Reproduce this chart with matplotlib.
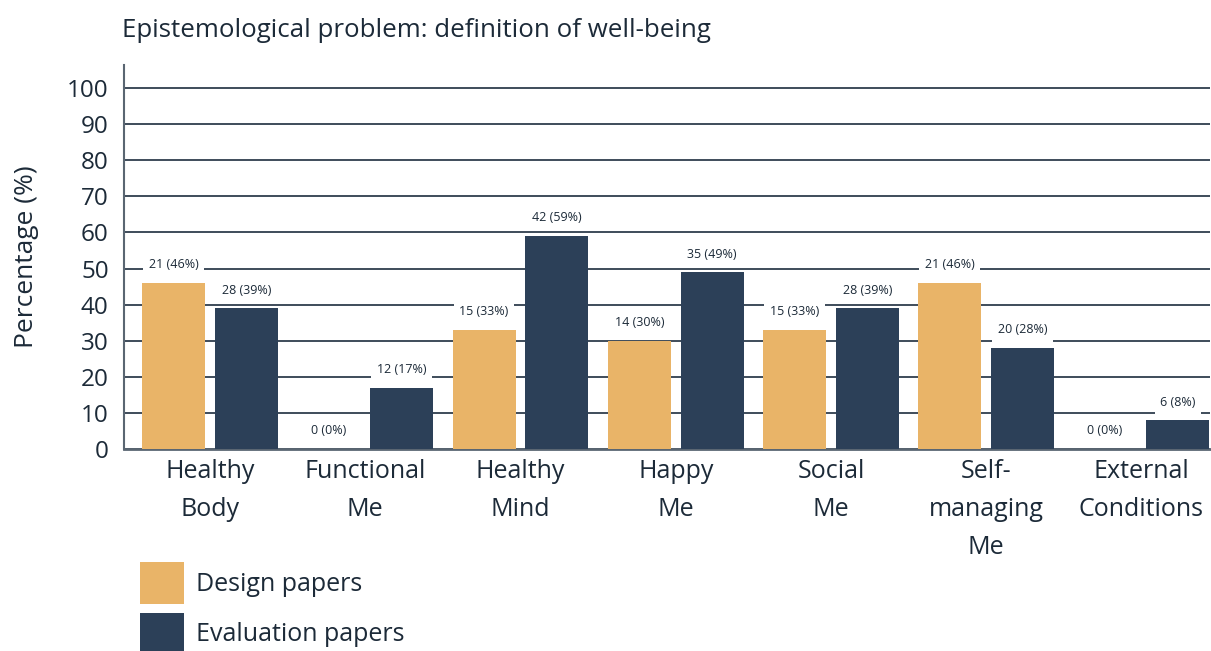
import numpy as np
import matplotlib
matplotlib.use('Agg')
import matplotlib.pyplot as plt

categories = ['Healthy\nBody', 'Functional\nMe', 'Healthy\nMind', 'Happy\nMe',
              'Social\nMe', 'Self-\nmanaging\nMe', 'External\nConditions']
design_counts = [21, 0, 15, 14, 15, 21, 0]
design_pct = [46, 0, 33, 30, 33, 46, 0]
eval_counts = [28, 12, 42, 35, 28, 20, 6]
eval_pct = [39, 17, 59, 49, 39, 28, 8]

design_color = '#E9B468'
eval_color = '#2C4058'
text_color = '#1C2A38'
grid_color = '#3E4C5A'

plt.rcParams['font.family'] = ['Open Sans', 'DejaVu Sans']

fig = plt.figure(figsize=(12.11, 6.51), dpi=100)
ax = fig.add_axes([0.1024, 0.3103, 0.8966, 0.5899])

x = np.arange(len(categories))
width = 0.405
offset = 0.032 + width / 2

ax.bar(x - offset, design_pct, width, color=design_color, label='Design papers', zorder=3)
ax.bar(x + offset, eval_pct, width, color=eval_color, label='Evaluation papers', zorder=3)

for xi, c, p in zip(x, design_counts, design_pct):
    ax.annotate(f'{c} ({p}%)', (xi - offset, p), xytext=(0, 13), textcoords='offset points',
                ha='center', va='center', fontsize=9, color=text_color, zorder=4,
                bbox=dict(boxstyle='square,pad=0.45', fc='white', ec='none'))
for xi, c, p in zip(x, eval_counts, eval_pct):
    ax.annotate(f'{c} ({p}%)', (xi + offset, p), xytext=(0, 13), textcoords='offset points',
                ha='center', va='center', fontsize=9, color=text_color, zorder=4,
                bbox=dict(boxstyle='square,pad=0.45', fc='white', ec='none'))

ax.set_ylim(0, 106.4)
ax.set_xlim(-0.554, 6.44)
ax.set_yticks(range(0, 101, 10))
ax.yaxis.grid(True, color=grid_color, linewidth=1.4, zorder=0)
ax.set_axisbelow(True)
ax.set_xticks(x)
ax.set_xticklabels(categories, fontsize=18, color=text_color, linespacing=1.7)
ax.tick_params(axis='y', length=0, pad=11, labelsize=17.5, labelcolor=text_color)
ax.tick_params(axis='x', length=0, pad=7)
for side in ['top', 'right']:
    ax.spines[side].set_visible(False)
ax.spines['left'].set_color('#5A6672')
ax.spines['left'].set_linewidth(1.5)
ax.spines['bottom'].set_color('#5A6672')
ax.spines['bottom'].set_linewidth(2)

ax.set_ylabel('Percentage (%)', fontsize=19, color=text_color, labelpad=20)
fig.text(0.1007, 0.953, 'Epistemological problem: definition of well-being',
         fontsize=18.6, color=text_color, va='center', ha='left')

leg = fig.legend(loc='upper left', bbox_to_anchor=(0.116, 0.136), frameon=False,
                 fontsize=18, handlelength=1.73, handleheight=2.15, labelspacing=0.38,
                 handletextpad=0.5, borderaxespad=0, borderpad=0, labelcolor=text_color)

fig.savefig('out.png', dpi=100)
